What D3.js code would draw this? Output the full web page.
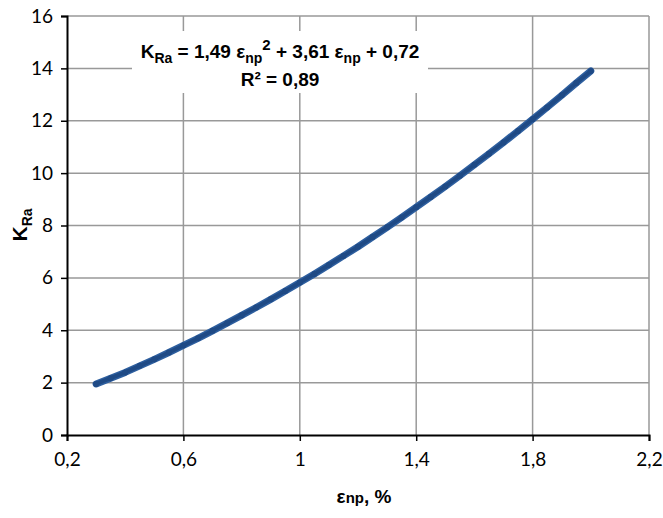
<!DOCTYPE html>
<html>
<head>
<meta charset="utf-8">
<script src="https://cdn.jsdelivr.net/npm/d3@7"></script>
<style>
  body { margin: 0; background: #fff; }
</style>
</head>
<body>
<div id="chart"></div>
<script>
// data
const strain = [0.30, 0.35, 0.40, 0.45, 0.50, 0.55, 0.60, 0.65, 0.70, 0.75, 0.80, 0.85,
                0.90, 0.95, 1.00, 1.05, 1.10, 1.15, 1.20, 1.25, 1.30, 1.35, 1.40, 1.45,
                1.50, 1.55, 1.60, 1.65, 1.70, 1.75, 1.80, 1.85, 1.90, 1.95, 2.00];
const kRa = [1.95, 2.17, 2.39, 2.64, 2.89, 3.15, 3.42, 3.69, 3.98, 4.27, 4.57, 4.87,
             5.18, 5.50, 5.82, 6.15, 6.49, 6.84, 7.19, 7.56, 7.93, 8.31, 8.70, 9.09,
             9.49, 9.90, 10.32, 10.74, 11.17, 11.61, 12.06, 12.51, 12.97, 13.44, 13.90];
const xTicks = [0.2, 0.6, 1.0, 1.4, 1.8, 2.2];
const yTicks = [0, 2, 4, 6, 8, 10, 12, 14, 16];

const w = 663, h = 518;
const pl = 67, pr = 649, pt = 16, pb = 435;

const svg = d3.select("#chart").append("svg")
  .attr("width", w).attr("height", h);

const x = d3.scaleLinear().domain([0.2, 2.2]).range([pl, pr]);
const y = d3.scaleLinear().domain([0, 16]).range([pb, pt]);

const fmt = d => String(+d.toFixed(1)).replace(".", ",");

// grid
svg.append("g").selectAll("line").data(xTicks.slice(1)).enter().append("line")
  .attr("x1", d => x(d)).attr("x2", d => x(d))
  .attr("y1", pt).attr("y2", pb)
  .attr("stroke", "#999").attr("stroke-width", 1.5);
svg.append("g").selectAll("line").data(yTicks.slice(1)).enter().append("line")
  .attr("x1", pl).attr("x2", pr)
  .attr("y1", d => y(d)).attr("y2", d => y(d))
  .attr("stroke", "#999").attr("stroke-width", 1.5);

// axes
const xAxis = d3.axisBottom(x).tickValues(xTicks).tickSize(6).tickPadding(12).tickFormat(fmt);
const gx = svg.append("g").attr("transform", `translate(0,${pb})`).call(xAxis);
const yAxis = d3.axisLeft(y).tickValues(yTicks).tickSize(6).tickPadding(8).tickFormat(d => d);
const gy = svg.append("g").attr("transform", `translate(${pl},0)`).call(yAxis);
[gx, gy].forEach(g => {
  g.select(".domain").attr("stroke", "#000").attr("stroke-width", 2);
  g.selectAll(".tick line").attr("stroke", "#000").attr("stroke-width", 1.5);
  g.selectAll(".tick text").attr("fill", "#000")
    .style("font-family", "Lato, 'Open Sans', sans-serif").style("font-size", "19px");
});

// series
const pts = strain.map((s, i) => [s, kRa[i]]);
const line = d3.line().x(d => x(d[0])).y(d => y(d[1]));
svg.append("path")
  .datum(pts)
  .attr("d", line)
  .attr("fill", "none")
  .attr("stroke", "#2e5f9f").attr("stroke-width", 7)
  .attr("stroke-linecap", "round").attr("stroke-linejoin", "round");
svg.append("path")
  .datum(pts)
  .attr("d", line)
  .attr("fill", "none")
  .attr("stroke", "#1f4a85").attr("stroke-width", 4)
  .attr("stroke-linecap", "round");
svg.append("g").selectAll("circle").data(pts).enter().append("circle")
  .attr("cx", d => x(d[0])).attr("cy", d => y(d[1])).attr("r", 3)
  .attr("fill", "#1f4a85");

// equation box
svg.append("rect").attr("x", 132).attr("y", 31).attr("width", 296).attr("height", 62)
  .attr("fill", "#fff");
const eq = svg.append("text").attr("x", 280).attr("y", 58).attr("text-anchor", "middle")
  .style("font-family", "'Liberation Sans', Arial, sans-serif")
  .style("font-weight", "bold").style("font-size", "19px");
eq.append("tspan").text("K");
eq.append("tspan").attr("dy", 5).style("font-size", "14px").text("Ra");
eq.append("tspan").attr("dy", -5).text(" = 1,49 ε");
eq.append("tspan").attr("dy", 5).style("font-size", "14px").text("np");
eq.append("tspan").attr("dy", -13).style("font-size", "15px").text("2");
eq.append("tspan").attr("dy", 8).text(" + 3,61 ε");
eq.append("tspan").attr("dy", 5).style("font-size", "14px").text("np");
eq.append("tspan").attr("dy", -5).text("  + 0,72");
svg.append("text").attr("x", 280).attr("y", 86).attr("text-anchor", "middle")
  .style("font-family", "'Liberation Sans', Arial, sans-serif")
  .style("font-weight", "bold").style("font-size", "19px")
  .text("R² = 0,89");

// axis titles
const yt = svg.append("text").attr("transform", "translate(27,225) rotate(-90)")
  .attr("text-anchor", "middle")
  .style("font-family", "'Liberation Sans', Arial, sans-serif")
  .style("font-weight", "bold").style("font-size", "21px");
yt.append("tspan").text("K");
yt.append("tspan").attr("dy", 5).style("font-size", "14px").text("Ra");

const xt = svg.append("text").attr("x", 364).attr("y", 503).attr("text-anchor", "middle")
  .style("font-family", "'Liberation Sans', Arial, sans-serif")
  .style("font-weight", "bold").style("font-size", "19px");
xt.append("tspan").text("ε");
xt.append("tspan").style("font-size", "15px").text("np");
xt.append("tspan").text(", %");
</script>
</body>
</html>
